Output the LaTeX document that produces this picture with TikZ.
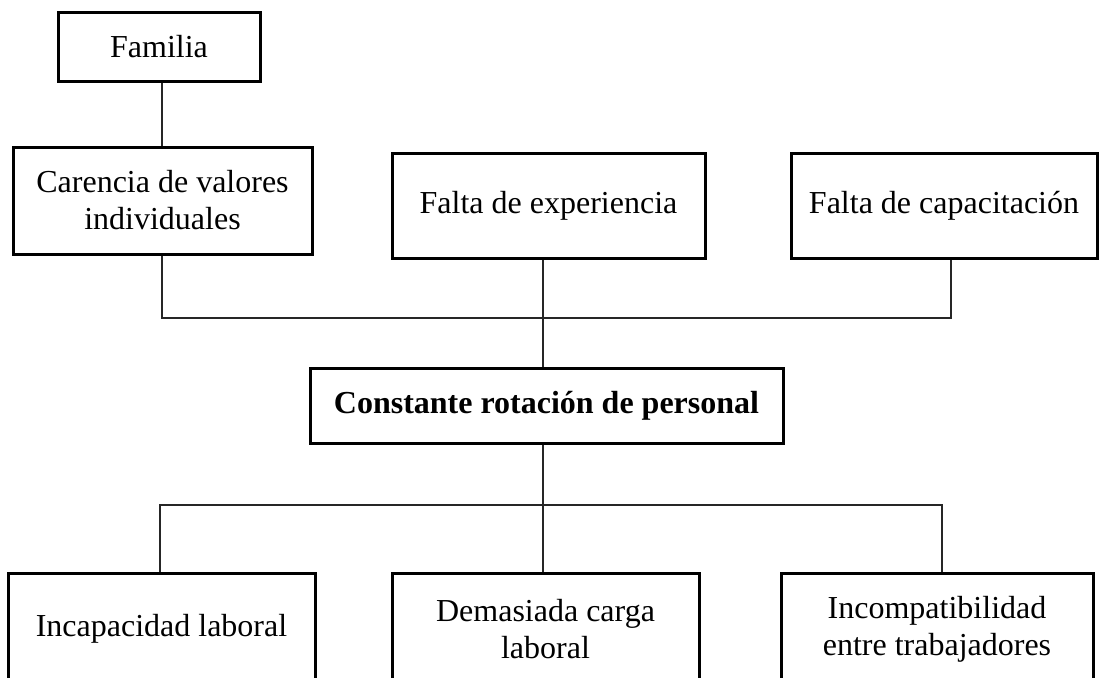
\documentclass[tikz,border=0pt]{standalone}
\usepackage{fontspec}
\setmainfont{Liberation Serif}
\begin{document}
\begin{tikzpicture}[x=1pt,y=-1pt,
  box/.style={draw, line width=3pt, inner sep=0pt, align=center,
    font=\fontsize{32}{37}\selectfont},
  link/.style={line width=1.4pt, draw=black!85}]
\useasboundingbox (0,0) rectangle (1099,677);
\clip (0,0) rectangle (1099,677);
\fill[white] (0,0) rectangle (1099,677);
% top boxes
\node[box, minimum width=202pt, minimum height=68pt] (fam) at (159,47) {Familia};
\node[box, minimum width=299pt, minimum height=107pt] (car) at (162.5,200.5) {Carencia de valores\\individuales};
\node[box, minimum width=313pt, minimum height=105pt] (exp) at (548.5,205.5) {Falta de experiencia};
\node[box, minimum width=306pt, minimum height=105pt] (cap) at (944,205.5) {Falta de capacitación};
% central
\node[box, minimum width=473pt, minimum height=75pt, font=\fontsize{32}{37}\selectfont\bfseries] (cen) at (546.5,405.5) {Constante rotación de personal};
% bottom boxes
\node[box, minimum width=307pt, minimum height=112pt] (inc) at (161.5,629) {Incapacidad laboral};
\node[box, minimum width=307pt, minimum height=112pt] (dem) at (545.5,629) {Demasiada carga\\laboral};
\node[box, minimum width=312pt, minimum height=112pt] (icp) at (937,629) {Incompatibilidad\\entre trabajadores};
% junction points
\coordinate (tl) at (162,318);
\coordinate (tm) at (543,318);
\coordinate (tr) at (951,318);
\coordinate (bl) at (160,505);
\coordinate (bm) at (543,505);
\coordinate (br) at (942,505);
% connectors
\draw[link] (fam.south -| tl) -- (car.north -| tl);
\draw[link] (car.south -| tl) -- (tl) -- (tr) -- (cap.south -| tr);
\draw[link] (exp.south -| tm) -- (tm) -- (cen.north -| tm);
\draw[link] (cen.south -| bm) -- (bm) -- (dem.north -| bm);
\draw[link] (inc.north -| bl) -- (bl) -- (br) -- (icp.north -| br);
\end{tikzpicture}
\end{document}
